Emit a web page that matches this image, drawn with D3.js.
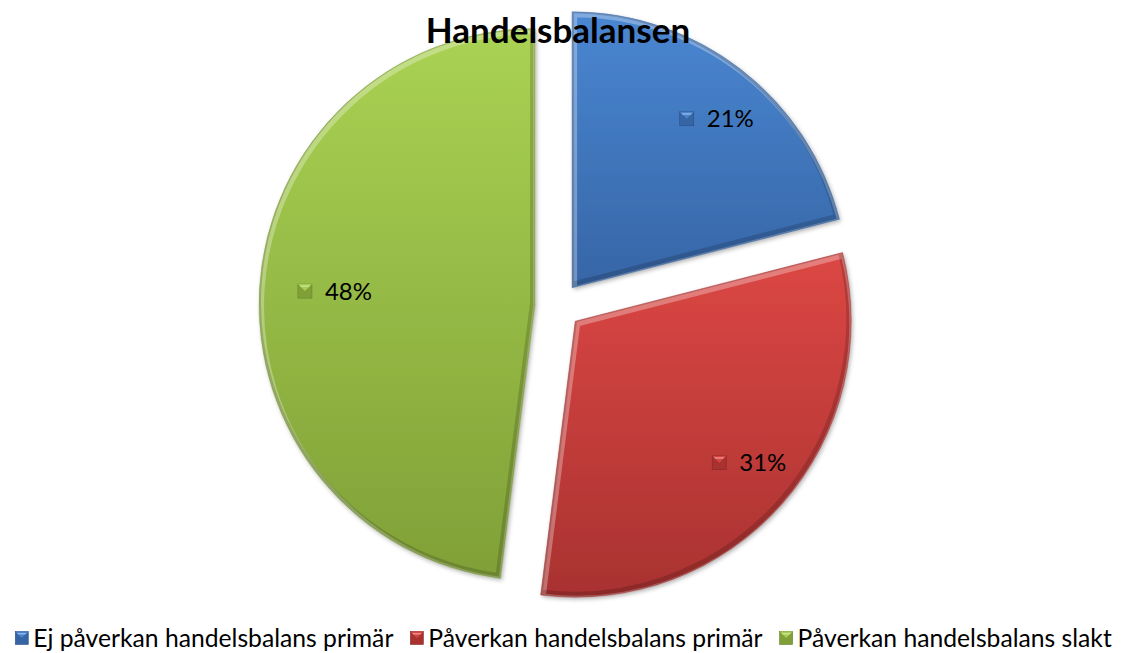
<!DOCTYPE html>
<html>
<head>
<meta charset="utf-8">
<script src="https://cdn.jsdelivr.net/npm/d3@7"></script>
<style>
  html, body { margin: 0; padding: 0; background: #fff; }
  svg { display: block; font-family: Lato, "Open Sans", sans-serif; }
</style>
</head>
<body>
<svg id="chart" width="1127" height="653"></svg>
<script>
// chart data
const title = "Handelsbalansen";
const categories = [
  "Ej påverkan handelsbalans primär",
  "Påverkan handelsbalans primär",
  "Påverkan handelsbalans slakt",
];
const shares = [21, 31, 48];
const topColors = ["#4a87d2", "#dc4744", "#aad253"];
const bottomColors = ["#3665a6", "#a93231", "#80a037"];

// layout
const width = 1127;
const height = 653;
const cx = 558;
const cy = 306;
const radius = 276;
const explode = 23;
const labelRadius = 214;

const svg = d3.select("#chart");
const defs = svg.append("defs");

// vertical gradient per slice
categories.forEach((c, i) => {
  const g = defs
    .append("linearGradient")
    .attr("id", "grad" + i)
    .attr("x1", 0).attr("y1", 0)
    .attr("x2", 0).attr("y2", 1);
  g.append("stop").attr("offset", "0%").attr("stop-color", topColors[i]);
  g.append("stop").attr("offset", "100%").attr("stop-color", bottomColors[i]);
});

// soft shadow under the slices
const shadow = defs
  .append("filter")
  .attr("id", "shadow")
  .attr("x", "-10%").attr("y", "-10%")
  .attr("width", "120%").attr("height", "120%");
shadow
  .append("feDropShadow")
  .attr("dx", 1.5).attr("dy", 2)
  .attr("stdDeviation", 2)
  .attr("flood-color", "#000")
  .attr("flood-opacity", 0.3);

const pie = d3.pie().sort(null).value((d) => d);
const arcs = pie(shares);
const arc = d3.arc().innerRadius(0).outerRadius(radius);
const labelArc = d3.arc().innerRadius(labelRadius).outerRadius(labelRadius);

function offsetFor(d) {
  const a = (d.startAngle + d.endAngle) / 2;
  return [Math.sin(a) * explode, -Math.cos(a) * explode];
}

const pieG = svg.append("g").attr("transform", `translate(${cx},${cy})`);

const slices = pieG
  .selectAll("g.slice")
  .data(arcs)
  .join("g")
  .attr("class", "slice")
  .attr("transform", (d) => {
    const [dx, dy] = offsetFor(d);
    return `translate(${dx},${dy})`;
  });

slices.each(function (d, i) {
  const g = d3.select(this);
  const path = arc(d);

  defs.append("clipPath").attr("id", "clip" + i).append("path").attr("d", path);

  g.append("path")
    .attr("d", path)
    .attr("fill", `url(#grad${i})`)
    .attr("filter", "url(#shadow)");

  // bevel: light edge on top-left, dark edge on bottom-right
  const bevel = g.append("g").attr("clip-path", `url(#clip${i})`);
  bevel.append("path")
    .attr("d", path)
    .attr("transform", "translate(1.5,2)")
    .attr("fill", "none")
    .attr("stroke", "#fff")
    .attr("stroke-opacity", 0.3)
    .attr("stroke-width", 7);
  bevel.append("path")
    .attr("d", path)
    .attr("transform", "translate(-1.5,-2)")
    .attr("fill", "none")
    .attr("stroke", "#000")
    .attr("stroke-opacity", 0.16)
    .attr("stroke-width", 7);
  g.append("path")
    .attr("d", path)
    .attr("fill", "none")
    .attr("stroke", bottomColors[i])
    .attr("stroke-opacity", 0.7)
    .attr("stroke-width", 0.6);
});

// little bevelled key square
function keySquare(sel, i, size) {
  sel.append("rect")
    .attr("width", size).attr("height", size)
    .attr("fill", bottomColors[i])
    .attr("stroke", d3.color(bottomColors[i]).darker(0.6))
    .attr("stroke-width", 0.6);
  sel.append("path")
    .attr("d", `M0,0L${size},0L${size / 2},${size / 2}Z`)
    .attr("fill", topColors[i])
    .attr("opacity", 0.9);
  sel.append("path")
    .attr("d", `M1.5,1.5L${size - 1.5},1.5L${size - 3},3L3,3Z`)
    .attr("fill", "#fff")
    .attr("opacity", 0.4);
}

// data labels: key + percent, text roughly centred on the bisector
const labelFont = 24;
const keyGap = 27;
slices.each(function (d, i) {
  const [lx, ly] = labelArc.centroid(d);
  const lg = d3.select(this).append("g");
  const t = lg.append("text")
    .attr("x", keyGap)
    .attr("y", 0)
    .attr("dy", "0.35em")
    .attr("font-size", labelFont)
    .attr("fill", "#000")
    .text(d.data + "%");
  const tw = t.node().getComputedTextLength();
  keySquare(lg.append("g").attr("transform", "translate(0,-7)"), i, 14);
  const gw = keyGap + tw;
  lg.attr("transform", `translate(${lx - gw / 2 + keyGap / 2},${ly})`);
});

// title
svg.append("text")
  .attr("x", cx)
  .attr("y", 43)
  .attr("text-anchor", "middle")
  .attr("font-size", 35)
  .attr("font-weight", "bold")
  .attr("fill", "#000")
  .text(title);

// legend
const legendFont = 24.7;
const legend = svg.append("g");
let x = 0;
categories.forEach((c, i) => {
  const item = legend.append("g").attr("transform", `translate(${x},0)`);
  keySquare(item.append("g").attr("transform", "translate(0,-6.5)"), i, 13);
  const t = item.append("text")
    .attr("x", 18)
    .attr("y", 0)
    .attr("dy", "0.36em")
    .attr("font-size", legendFont)
    .attr("fill", "#000")
    .text(c);
  x += 18 + t.node().getComputedTextLength() + 17;
});
const legendWidth = x - 17;
legend.attr("transform", `translate(${(width - legendWidth) / 2},638)`);
</script>
</body>
</html>
